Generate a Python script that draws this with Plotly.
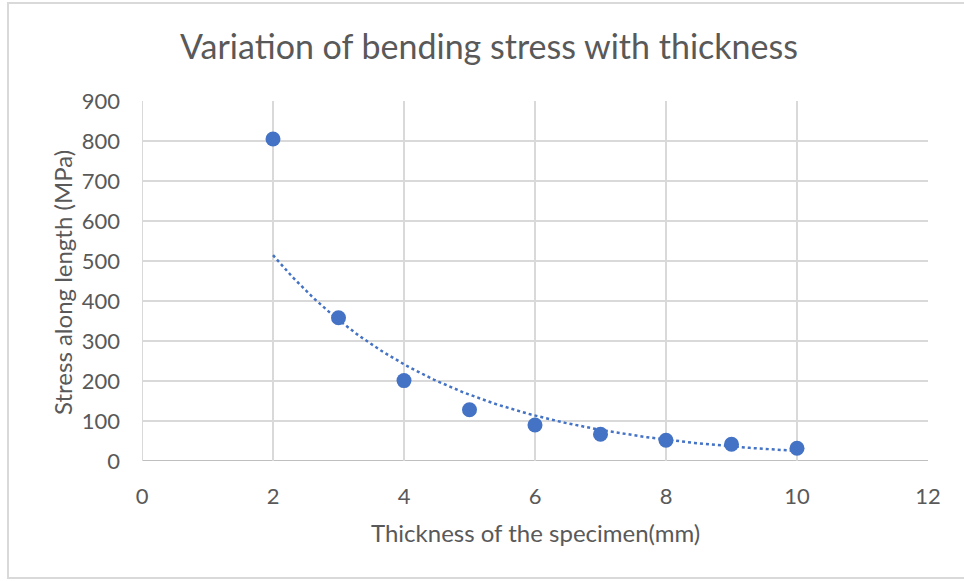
import numpy as np
import plotly.graph_objects as go

thickness = [2, 3, 4, 5, 6, 7, 8, 9, 10]
stress = [805, 358, 201, 128, 90, 67, 52, 42, 32]

# Excel-style exponential trendline fitted from the data
b, ln_a = np.polyfit(thickness, np.log(stress), 1)
x_fit = np.linspace(min(thickness), max(thickness), 200)
y_fit = np.exp(ln_a) * np.exp(b * x_fit)

L, R, T, B = 142, 36, 101, 120
W, H = 964, 581
pw, ph = W - L - R, H - T - B

font_family = "Lato, 'Open Sans', sans-serif"
grey_text = "#595959"

fig = go.Figure()
fig.add_trace(go.Scatter(x=x_fit, y=y_fit, mode="lines",
                         line=dict(color="#4472C4", width=2.5, dash="dot"),
                         hoverinfo="skip", showlegend=False))
fig.add_trace(go.Scatter(x=thickness, y=stress, mode="markers",
                         marker=dict(color="#4472C4", size=15),
                         showlegend=False))

def px(xp):
    return (xp - L) / pw

def py(yp):
    return (H - B - yp) / ph

fig.add_shape(type="rect", xref="paper", yref="paper",
              x0=px(8), x1=px(967), y0=py(578), y1=py(3),
              line=dict(color="#d9d9d9", width=2), layer="below")

fig.update_layout(
    width=W, height=H,
    margin=dict(l=L, r=R, t=T, b=B),
    paper_bgcolor="white", plot_bgcolor="white",
    font=dict(family=font_family, color=grey_text),
    title=dict(text="Variation of bending stress with thickness",
               x=px(489), xref="paper", xanchor="center",
               y=1 - 47 / H, yanchor="middle",
               font=dict(size=34, color=grey_text)),
    xaxis=dict(range=[0, 12], tickvals=[0, 2, 4, 6, 8, 10, 12],
               showgrid=True, gridcolor="#d9d9d9", gridwidth=1.5,
               zeroline=False, showline=False,
               ticks="", tickfont=dict(size=22, color=grey_text),
               ticklabelstandoff=20),
    yaxis=dict(range=[0, 900], tickvals=list(range(0, 901, 100)),
               showgrid=True, gridcolor="#d9d9d9", gridwidth=1.5,
               zeroline=False, showline=False,
               ticks="", tickfont=dict(size=22, color=grey_text),
               ticklabelstandoff=21),
)

fig.add_annotation(text="Thickness of the specimen(mm)", xref="paper", yref="paper",
                   x=px(535), y=py(532), xanchor="center", yanchor="middle",
                   showarrow=False, font=dict(size=24, color=grey_text))
fig.add_annotation(text="Stress along length (MPa)", xref="paper", yref="paper",
                   x=px(62), y=py(283), xanchor="center", yanchor="middle",
                   textangle=-90, showarrow=False, font=dict(size=24, color=grey_text))

fig.add_shape(type="line", xref="x", yref="y", x0=0, x1=12, y0=0, y1=0,
              line=dict(color="#bfbfbf", width=2), layer="below")
fig.add_shape(type="line", xref="x", yref="y", x0=0, x1=0, y0=0, y1=900,
              line=dict(color="#d9d9d9", width=2), layer="below")

fig.write_html("out.html")
